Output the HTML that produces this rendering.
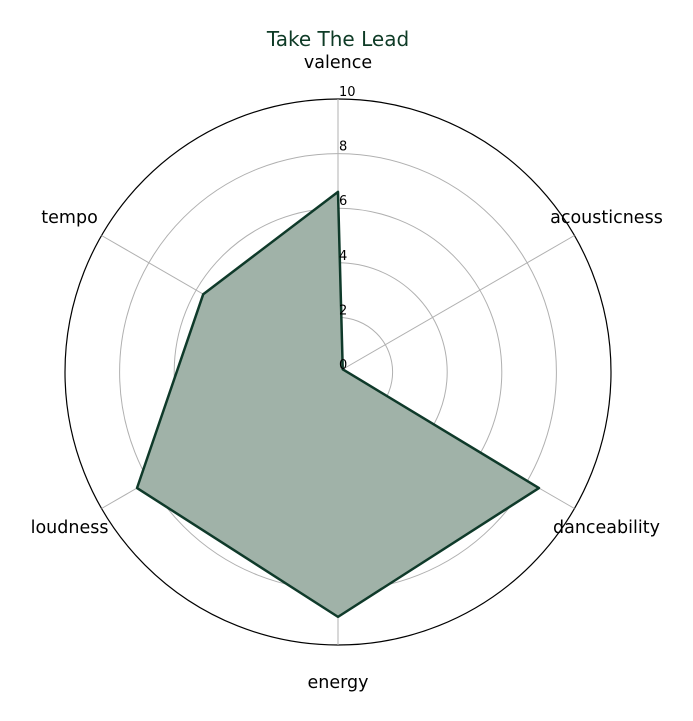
<!DOCTYPE html>
<html><head><meta charset="utf-8">
<style>
body{margin:0;background:#fff;}
svg{display:block;font-family:"DejaVu Sans","Liberation Sans",sans-serif;}
</style></head>
<body>
<svg id="chart" width="693" height="721" viewBox="0 0 693 721">
<text x="338" y="46" text-anchor="middle" font-size="20" fill="#0e3b26">Take The Lead</text>
<g id="grid"></g>
<g id="series"></g>
<g id="labels"></g>
</svg>
<script>
const categories = ["valence","acousticness","danceability","energy","loudness","tempo"];
const values = [6.6, 0.2, 8.5, 8.97, 8.5, 5.7];
const ticks = [0,2,4,6,8,10];
const cx=338, cy=372, R=273, maxV=10;
const ns="http://www.w3.org/2000/svg";
function rScale(v){return v/maxV*R;}
function ang(i){return -Math.PI/2 + i*2*Math.PI/categories.length;}
function pt(i,v){const a=ang(i);return [cx+rScale(v)*Math.cos(a), cy+rScale(v)*Math.sin(a)];}
function mk(tag,attrs,parent){const e=document.createElementNS(ns,tag);for(const k in attrs)e.setAttribute(k,attrs[k]);parent.appendChild(e);return e;}
const grid=document.getElementById('grid');
ticks.slice(1).forEach(t=>{
  const c=mk('circle',{cx:cx,cy:cy,r:rScale(t),fill:'none',stroke:t===maxV?'#000':'#b0b0b0','stroke-width':t===maxV?1.2:1},grid);
  
  
});
categories.forEach((c,i)=>{
  const p=pt(i,maxV);
  const l=mk('line',{x1:cx,y1:cy,x2:p[0],y2:p[1],stroke:'#b0b0b0','stroke-width':1},grid);
  
  
});
const series=document.getElementById('series');
const pts=values.map((v,i)=>pt(i,v).join(',')).join(' ');
const poly=mk('polygon',{points:pts,fill:'#a0b2a8',stroke:'#0f3a2a','stroke-width':2.5,'stroke-linejoin':'round'},series);


const labels=document.getElementById('labels');
ticks.forEach(t=>{
  const tx=mk('text',{x:cx+1,y:cy-rScale(t)-3,'font-size':13,fill:'#000'},labels);
  tx.textContent=t;
  
  
});
categories.forEach((c,i)=>{
  const a=ang(i);const lr=310;
  const x=cx+lr*Math.cos(a), y=cy+lr*Math.sin(a);
  const tx=mk('text',{x:x,y:y+6,'text-anchor':'middle','font-size':17.5,fill:'#000'},labels);
  tx.textContent=c;
  
  
});
</script>
</body></html>
